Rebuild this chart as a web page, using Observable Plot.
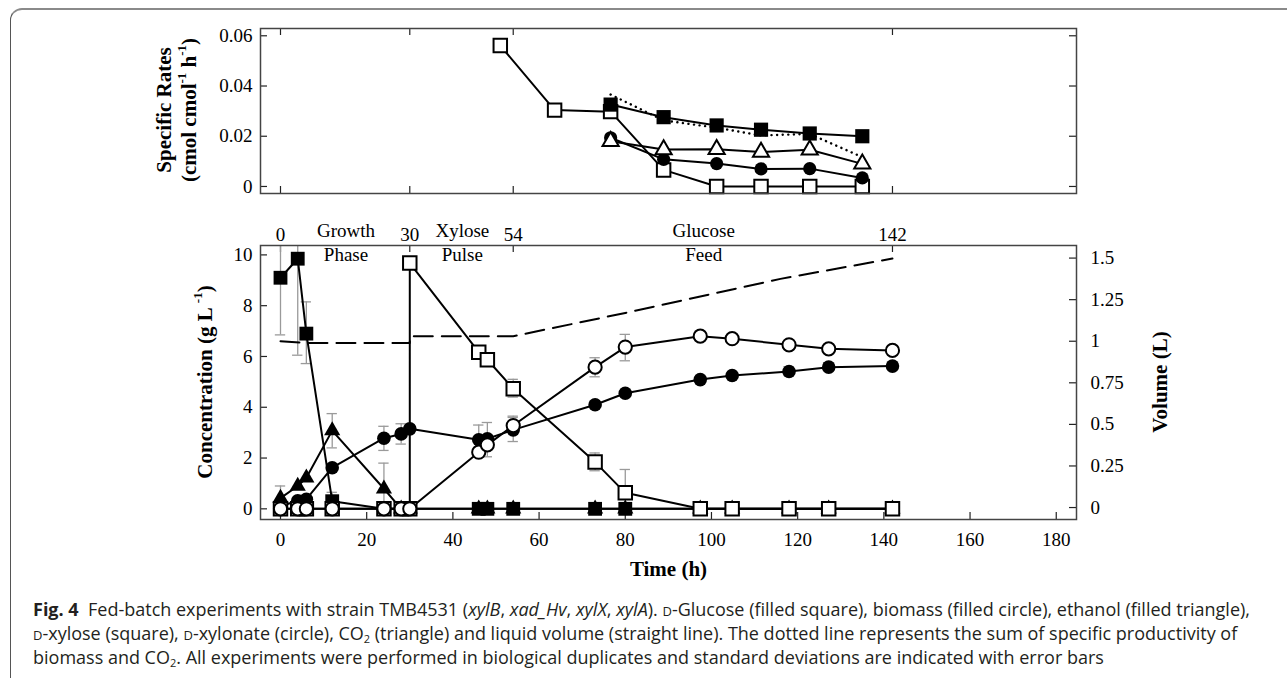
<!DOCTYPE html>
<html><head><meta charset="utf-8">
<script src="https://cdn.jsdelivr.net/npm/d3@7"></script>
<script src="https://cdn.jsdelivr.net/npm/@observablehq/plot@0.6"></script>
<style>
html,body{margin:0;padding:0;background:#fff;}
body{width:1287px;height:678px;overflow:hidden;position:relative;}
#box{position:absolute;left:10px;top:8px;width:1300px;height:700px;border-top:2px solid #8a8a8a;border-left:1.5px solid #555;border-top-left-radius:12px;}
#top{position:absolute;left:0;top:0;}
#bot{position:absolute;left:0;top:195px;}
#cap{position:absolute;left:33px;top:597px;font-family:"Open Sans",sans-serif;font-size:18px;line-height:24px;color:#231f20;white-space:nowrap;}
#cap div{height:24px;}
#cap .sc{font-variant:small-caps;}
#cap sub{font-size:11px;line-height:0;vertical-align:-3px;}
</style></head>
<body>
<div id="box"></div>
<div id="top"></div>
<div id="bot"></div>
<div id="cap"><div><b>Fig. 4</b>&nbsp; Fed-batch experiments with strain TMB4531 (<i>xylB</i>, <i>xad_Hv</i>, <i>xylX</i>, <i>xylA</i>). <span class="sc">d</span>-Glucose (filled square), biomass (filled circle), ethanol (filled triangle),</div><div><span class="sc">d</span>-xylose (square), <span class="sc">d</span>-xylonate (circle), CO<sub>2</sub> (triangle) and liquid volume (straight line). The dotted line represents the sum of specific productivity of</div><div>biomass and CO<sub>2</sub>. All experiments were performed in biological duplicates and standard deviations are indicated with error bars</div></div>
<script>
// ---------- Top panel data (specific rates, cmol cmol-1 h-1) ----------
const rateTime = [76.6, 88.9, 101.2, 111.5, 122.8, 135];
const xyloseRateTime = [51.0, 63.6, 76.6, 88.9, 101.2, 111.5, 122.8, 135];
const xyloseRate = [0.0561, 0.0304, 0.0298, 0.0066, 0, 0, 0, 0];
const glucoseRate = [0.0326, 0.0276, 0.0243, 0.0226, 0.0211, 0.0200];
const biomassRate = [0.0194, 0.0108, 0.0091, 0.0070, 0.0071, 0.0034];
const co2Rate = [0.0180, 0.0147, 0.0148, 0.0137, 0.0146, 0.0090];
const sumRate = [0.0366, 0.0263, 0.0234, 0.0203, 0.0209, 0.0117];
const rateTicks = [0, 0.02, 0.04, 0.06];
const phaseTicks = [0, 30, 54, 142];
const phaseNames = ["Growth\nPhase", "Xylose\nPulse", "Glucose\nFeed"];
const phaseNameTime = [15.2, 42.2, 98.2];

// ---------- Bottom panel data (g/L) ----------
const sampleTime = [0, 4, 6, 12, 24, 28, 30, 46, 48, 54, 73, 80, 97.4, 104.8, 118, 127.2, 142];
const glucose  = [9.1, 9.85, 6.9, 0.3, 0, 0, 0, 0, 0, 0, 0, 0, 0, 0, 0, 0, 0];
const biomass  = [0.1, 0.32, 0.38, 1.62, 2.78, 2.95, 3.15, 2.72, 2.76, 3.11, 4.1, 4.55, 5.09, 5.25, 5.41, 5.58, 5.62];
const ethanol  = [0.42, 0.9, 1.22, 3.08, 0.79, 0, 0, 0, 0, 0, 0, 0, 0, 0, 0, 0, 0];
const xylonate = [0, 0, 0, 0, 0, 0, 0, 2.23, 2.52, 3.28, 5.58, 6.37, 6.8, 6.7, 6.46, 6.3, 6.24];
const xyloseTime = [0, 4, 6, 12, 24, 28, 30, 30, 46, 48, 54, 73, 80, 97.4, 104.8, 118, 127.2, 142];
const xylose     = [0, 0, 0, 0, 0, 0, 0, 9.68, 6.17, 5.87, 4.73, 1.84, 0.63, 0, 0, 0, 0, 0];
const volTime = [0, 6, 30, 30, 54, 80, 116, 142];
const volume  = [1.0, 0.99, 0.99, 1.03, 1.03, 1.17, 1.375, 1.497];
// error bars: [time, low, high]
const errGlucose  = [[0, 6.85, 11.5], [4, 6.05, 13.6], [6, 5.72, 8.15], [12, 0, 0.65]];
const errEthanol  = [[0, 0, 0.9], [12, 2.4, 3.75], [24, 0, 1.8]];
const errBiomass  = [[24, 2.3, 3.25], [28, 2.55, 3.35], [46, 2.35, 3.3], [54, 2.65, 3.65], [73, 3.95, 4.25], [118, 5.25, 5.6], [127.2, 5.45, 5.75]];
const errXylonate = [[48, 2.05, 3.4], [54, 3.0, 3.6], [73, 5.2, 5.95], [80, 5.83, 6.87], [97.4, 6.62, 7.0]];
const errXylose   = [[54, 4.4, 5.1], [73, 1.5, 2.2], [80, 0, 1.55]];
const concTicks = [0, 2, 4, 6, 8, 10];
const volTicks = [0, 0.25, 0.5, 0.75, 1, 1.25, 1.5];
const timeTicks = [0, 20, 40, 60, 80, 100, 120, 140, 160, 180];

// volume (L) mapped onto concentration axis
const volToConc = v => 0.051 + 6.549 * v;
const concToVol = c => (c - 0.051) / 6.549;

const xDomain = [-4.64, 184.7];
const font = {fontFamily: "Liberation Serif", fontSize: "19px", background: "transparent", color: "#000", overflow: "visible"};
const frameW = 816, topH = 165, botH = 274;

function series(t, v) { return t.map((d, i) => ({t: d, v: v[i]})); }
function errs(a) { return a.map(([t, lo, hi]) => ({t, lo, hi})); }

// ---------------- Top panel ----------------
const topPlot = Plot.plot({
  width: 1287, height: 200,
  marginLeft: 260, marginRight: 211, marginTop: 28, marginBottom: 7,
  x: {domain: xDomain, axis: null, label: null},
  y: {domain: [-0.0028, 0.0629], axis: null, label: null},
  style: font,
  marks: [
    Plot.axisY(rateTicks, {anchor: "left", label: null, tickSize: 0, tickPadding: 8, tickFormat: d => d === 0 ? "0" : d.toFixed(2)}),
    Plot.tickY(rateTicks, {y: d => d, insetRight: frameW - 7, stroke: "#222", strokeWidth: 1.2}),
    Plot.tickY(rateTicks, {y: d => d, insetLeft: frameW - 7, stroke: "#222", strokeWidth: 1.2}),
    Plot.tickX(phaseTicks, {x: d => d, insetBottom: topH - 7, stroke: "#222", strokeWidth: 1.2}),
    Plot.tickX(phaseTicks, {x: d => d, insetTop: topH - 7, stroke: "#222", strokeWidth: 1.2}),
    Plot.line(series(rateTime, sumRate), {x: "t", y: "v", stroke: "#000", strokeWidth: 2.4, strokeDasharray: "0.1,5.5", strokeLinecap: "round"}),
    Plot.line(series(rateTime, co2Rate), {x: "t", y: "v", stroke: "#000", strokeWidth: 2}),
    Plot.line(series(rateTime, biomassRate), {x: "t", y: "v", stroke: "#000", strokeWidth: 2}),
    Plot.line(series(xyloseRateTime, xyloseRate), {x: "t", y: "v", stroke: "#000", strokeWidth: 2}),
    Plot.line(series(rateTime, glucoseRate), {x: "t", y: "v", stroke: "#000", strokeWidth: 2}),
    Plot.dot(series(xyloseRateTime, xyloseRate), {x: "t", y: "v", symbol: "square", r: 7.6, fill: "#fff", stroke: "#000", strokeWidth: 2}),
    Plot.dot(series(rateTime, biomassRate), {x: "t", y: "v", symbol: "circle", r: 6.6, fill: "#000"}),
    Plot.dot(series(rateTime, co2Rate), {x: "t", y: "v", symbol: "triangle", r: 6, fill: "#fff", stroke: "#000", strokeWidth: 2}),
    Plot.dot(series(rateTime, glucoseRate), {x: "t", y: "v", symbol: "square", r: 8, fill: "#000"}),
    Plot.frame({stroke: "#444", strokeWidth: 1.5})
  ]
});
document.getElementById("top").append(topPlot);

// ---------------- Bottom panel ----------------
const lineOpts = {x: "t", y: "v", stroke: "#000", strokeWidth: 2};
const errRule = a => Plot.ruleX(errs(a), {x: "t", y1: "lo", y2: "hi", stroke: "#9a9a9a", strokeWidth: 1.3, clip: true});
const errCap = (a, key) => Plot.ruleY(errs(a), {y: key, x1: d => d.t - 1.2, x2: d => d.t + 1.2, stroke: "#9a9a9a", strokeWidth: 1.3, clip: true});
const allErr = [errGlucose, errEthanol, errBiomass, errXylonate, errXylose];

const botPlot = Plot.plot({
  width: 1287, height: 400,
  marginLeft: 260, marginRight: 211, marginTop: 50, marginBottom: 76,
  x: {domain: xDomain, axis: null, label: null},
  y: {domain: [-0.42, 10.37], axis: null, label: null},
  style: font,
  marks: [
    Plot.axisY(concTicks, {anchor: "left", label: null, tickSize: 0, tickPadding: 8}),
    Plot.axisY(volTicks.map(volToConc), {anchor: "right", label: null, tickSize: 0, tickPadding: 14, tickFormat: d => String(Math.round(concToVol(d) * 100) / 100)}),
    Plot.axisX(timeTicks, {anchor: "bottom", label: null, tickSize: 0, tickPadding: 13}),
    Plot.text(phaseTicks, {x: d => d, frameAnchor: "top", dy: -18, text: d => String(d)}),
    Plot.text(phaseNames, {x: (d, i) => phaseNameTime[i], frameAnchor: "top", dy: -26, text: d => d, lineHeight: 1.28}),
    Plot.text(["Time (h)"], {frameAnchor: "bottom", dy: 56, text: d => d, fontWeight: "bold", fontSize: 21}),
    Plot.tickY(concTicks, {y: d => d, insetRight: frameW - 7, stroke: "#222", strokeWidth: 1.2}),
    Plot.tickY(volTicks.map(volToConc), {y: d => d, insetLeft: frameW - 7, stroke: "#222", strokeWidth: 1.2}),
    Plot.tickX(timeTicks, {x: d => d, insetTop: botH - 7, stroke: "#222", strokeWidth: 1.2}),
    Plot.tickX(phaseTicks, {x: d => d, insetBottom: botH - 7, stroke: "#222", strokeWidth: 1.2}),
    ...allErr.map(errRule),
    ...allErr.map(a => errCap(a, "lo")),
    ...allErr.map(a => errCap(a, "hi")),
    Plot.line(series(volTime, volume), {x: "t", y: d => volToConc(d.v), stroke: "#000", strokeWidth: 2, strokeDasharray: "19,9"}),
    Plot.line(series(sampleTime, ethanol), lineOpts),
    Plot.line(series(sampleTime, glucose), lineOpts),
    Plot.line(series(sampleTime, biomass), lineOpts),
    Plot.line(series(xyloseTime, xylose), lineOpts),
    Plot.line(series(sampleTime, xylonate), lineOpts),
    Plot.dot(series(sampleTime, ethanol), {x: "t", y: "v", symbol: "triangle", r: 6, fill: "#000"}),
    Plot.dot(series(sampleTime, glucose), {x: "t", y: "v", symbol: "square", r: 7.8, fill: "#000"}),
    Plot.dot(series(sampleTime, biomass), {x: "t", y: "v", symbol: "circle", r: 6.8, fill: "#000"}),
    Plot.dot(series(xyloseTime, xylose), {x: "t", y: "v", symbol: "square", r: 7.6, fill: "#fff", stroke: "#000", strokeWidth: 2}),
    Plot.dot(series(sampleTime, xylonate), {x: "t", y: "v", symbol: "circle", r: 6.6, fill: "#fff", stroke: "#000", strokeWidth: 2}),
    Plot.frame({stroke: "#444", strokeWidth: 1.5})
  ]
});
document.getElementById("bot").append(botPlot);

// ---------- axis titles with superscripts ----------
function title(svg, x, y, rot, parts, size) {
  const t = d3.select(svg).append("text")
    .attr("transform", `translate(${x},${y}) rotate(${rot})`)
    .attr("text-anchor", "middle").attr("dominant-baseline", "central")
    .attr("font-family", "Liberation Serif").attr("font-weight", "bold")
    .attr("font-size", size).attr("fill", "#000");
  for (const [s, sup] of parts) {
    const ts = t.append("tspan").text(s);
    if (sup) ts.attr("font-size", size * 0.62).attr("baseline-shift", "super");
  }
}
title(topPlot, 164, 110, -90, [["Specific Rates"]], 21);
title(topPlot, 189, 110, -90, [["(cmol cmol"], ["-1", true], [" h"], ["-1", true], [")"]], 21);
title(botPlot, 205, 187, -90, [["Concentration (g L "], ["-1", true], [")"]], 21);
title(botPlot, 1160, 187, -90, [["Volume (L)"]], 21);
</script>
</body></html>
